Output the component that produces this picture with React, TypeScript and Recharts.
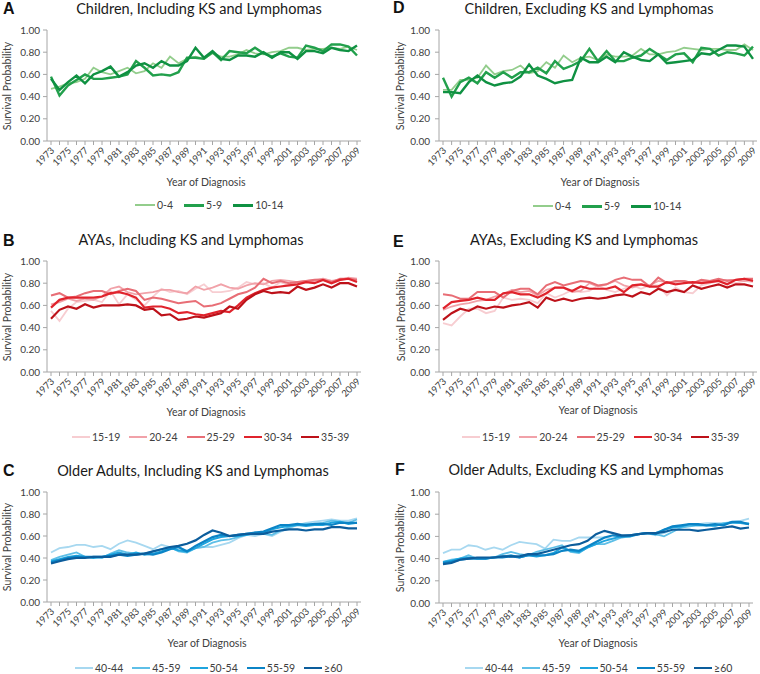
import React from 'react';
import { LineChart, Line, XAxis, YAxis } from 'recharts';

const years = [1973, 1974, 1975, 1976, 1977, 1978, 1979, 1980, 1981, 1982, 1983, 1984, 1985, 1986, 1987, 1988, 1989, 1990, 1991, 1992, 1993, 1994, 1995, 1996, 1997, 1998, 1999, 2000, 2001, 2002, 2003, 2004, 2005, 2006, 2007, 2008, 2009];
const yTicks = [0, 0.2, 0.4, 0.6, 0.8, 1];

const childLabels = ['0-4', '5-9', '10-14'];
const ayaLabels = ['15-19', '20-24', '25-29', '30-34', '35-39'];
const olderLabels = ['40-44', '45-59', '50-54', '55-59', '≥60'];

const childColors = ['#93cd8c', '#22a04c', '#0f9142'];
const ayaColors = ['#f7cdd1', '#f1a2a9', '#e86e76', '#e0232c', '#bd1119'];
const olderColors = ['#a7d8f0', '#5ebfe7', '#1ea4de', '#0b84c6', '#0c5d9c'];

// A: Children, Including KS and Lymphomas
const childInc_0_4 = [0.47, 0.49, 0.52, 0.53, 0.56, 0.66, 0.62, 0.60, 0.63, 0.66, 0.61, 0.63, 0.70, 0.66, 0.76, 0.70, 0.74, 0.76, 0.74, 0.79, 0.76, 0.76, 0.78, 0.82, 0.79, 0.78, 0.80, 0.81, 0.84, 0.84, 0.82, 0.83, 0.83, 0.84, 0.83, 0.85, 0.82];
const childInc_5_9 = [0.58, 0.41, 0.50, 0.55, 0.60, 0.56, 0.56, 0.57, 0.58, 0.60, 0.72, 0.66, 0.59, 0.60, 0.59, 0.62, 0.75, 0.75, 0.74, 0.80, 0.73, 0.81, 0.80, 0.79, 0.84, 0.79, 0.76, 0.79, 0.76, 0.75, 0.86, 0.84, 0.81, 0.87, 0.87, 0.85, 0.77];
const childInc_10_14 = [0.56, 0.46, 0.53, 0.59, 0.52, 0.60, 0.63, 0.67, 0.58, 0.62, 0.68, 0.70, 0.66, 0.72, 0.68, 0.68, 0.72, 0.84, 0.75, 0.81, 0.74, 0.73, 0.77, 0.77, 0.76, 0.80, 0.75, 0.80, 0.80, 0.74, 0.81, 0.81, 0.79, 0.84, 0.82, 0.81, 0.86];

// D: Children, Excluding KS and Lymphomas
const childExc_0_4 = [0.46, 0.46, 0.55, 0.55, 0.57, 0.68, 0.60, 0.63, 0.64, 0.68, 0.61, 0.63, 0.71, 0.66, 0.77, 0.71, 0.75, 0.76, 0.73, 0.78, 0.76, 0.76, 0.77, 0.83, 0.78, 0.78, 0.80, 0.81, 0.84, 0.83, 0.82, 0.83, 0.83, 0.82, 0.82, 0.87, 0.82];
const childExc_5_9 = [0.57, 0.40, 0.53, 0.57, 0.52, 0.62, 0.57, 0.62, 0.57, 0.62, 0.62, 0.66, 0.61, 0.72, 0.65, 0.68, 0.72, 0.83, 0.72, 0.81, 0.72, 0.72, 0.75, 0.77, 0.83, 0.78, 0.73, 0.78, 0.79, 0.71, 0.84, 0.83, 0.77, 0.80, 0.79, 0.77, 0.85];
const childExc_10_14 = [0.44, 0.44, 0.43, 0.53, 0.59, 0.53, 0.50, 0.52, 0.53, 0.58, 0.69, 0.59, 0.56, 0.52, 0.54, 0.55, 0.75, 0.71, 0.71, 0.76, 0.71, 0.80, 0.76, 0.73, 0.72, 0.78, 0.70, 0.71, 0.72, 0.73, 0.79, 0.78, 0.82, 0.86, 0.86, 0.85, 0.74];

// B: AYAs, Including KS and Lymphomas
const ayaInc_15_19 = [0.55, 0.46, 0.57, 0.63, 0.64, 0.65, 0.63, 0.73, 0.61, 0.70, 0.65, 0.60, 0.68, 0.75, 0.72, 0.73, 0.70, 0.75, 0.79, 0.72, 0.72, 0.73, 0.76, 0.81, 0.79, 0.80, 0.76, 0.81, 0.78, 0.80, 0.82, 0.83, 0.84, 0.82, 0.83, 0.84, 0.82];
const ayaInc_20_24 = [0.61, 0.63, 0.66, 0.64, 0.66, 0.65, 0.68, 0.75, 0.77, 0.72, 0.70, 0.71, 0.72, 0.74, 0.74, 0.72, 0.71, 0.77, 0.74, 0.76, 0.79, 0.76, 0.75, 0.78, 0.80, 0.79, 0.82, 0.83, 0.82, 0.81, 0.82, 0.82, 0.84, 0.82, 0.83, 0.85, 0.84];
const ayaInc_25_29 = [0.69, 0.71, 0.67, 0.68, 0.71, 0.73, 0.73, 0.70, 0.73, 0.75, 0.73, 0.65, 0.67, 0.66, 0.64, 0.62, 0.63, 0.64, 0.59, 0.60, 0.62, 0.66, 0.70, 0.72, 0.76, 0.84, 0.80, 0.82, 0.80, 0.81, 0.82, 0.83, 0.83, 0.81, 0.84, 0.84, 0.83];
const ayaInc_30_34 = [0.58, 0.65, 0.67, 0.67, 0.67, 0.67, 0.68, 0.71, 0.72, 0.70, 0.67, 0.58, 0.59, 0.59, 0.57, 0.53, 0.54, 0.52, 0.51, 0.53, 0.55, 0.54, 0.60, 0.67, 0.71, 0.74, 0.76, 0.77, 0.78, 0.79, 0.81, 0.80, 0.83, 0.80, 0.83, 0.84, 0.81];
const ayaInc_35_39 = [0.48, 0.56, 0.59, 0.57, 0.61, 0.58, 0.60, 0.60, 0.60, 0.61, 0.60, 0.56, 0.57, 0.51, 0.52, 0.47, 0.48, 0.50, 0.49, 0.51, 0.53, 0.59, 0.57, 0.65, 0.70, 0.73, 0.71, 0.72, 0.71, 0.77, 0.74, 0.76, 0.79, 0.76, 0.80, 0.80, 0.77];

// E: AYAs, Excluding KS and Lymphomas
const ayaExc_15_19 = [0.44, 0.42, 0.50, 0.57, 0.57, 0.53, 0.55, 0.67, 0.65, 0.66, 0.65, 0.62, 0.71, 0.67, 0.70, 0.74, 0.72, 0.73, 0.78, 0.74, 0.72, 0.75, 0.78, 0.75, 0.78, 0.78, 0.69, 0.76, 0.72, 0.71, 0.78, 0.80, 0.82, 0.80, 0.80, 0.82, 0.81];
const ayaExc_20_24 = [0.56, 0.59, 0.61, 0.62, 0.64, 0.65, 0.68, 0.70, 0.74, 0.72, 0.73, 0.69, 0.74, 0.76, 0.76, 0.72, 0.73, 0.80, 0.77, 0.79, 0.82, 0.78, 0.76, 0.79, 0.78, 0.82, 0.81, 0.81, 0.82, 0.80, 0.82, 0.81, 0.83, 0.83, 0.83, 0.82, 0.83];
const ayaExc_25_29 = [0.70, 0.69, 0.66, 0.66, 0.72, 0.72, 0.72, 0.67, 0.73, 0.75, 0.75, 0.70, 0.78, 0.81, 0.78, 0.80, 0.82, 0.81, 0.78, 0.79, 0.83, 0.85, 0.83, 0.83, 0.77, 0.85, 0.80, 0.82, 0.82, 0.80, 0.83, 0.82, 0.84, 0.82, 0.83, 0.84, 0.84];
const ayaExc_30_34 = [0.57, 0.63, 0.64, 0.65, 0.67, 0.65, 0.65, 0.71, 0.72, 0.70, 0.70, 0.67, 0.71, 0.76, 0.76, 0.73, 0.77, 0.75, 0.75, 0.75, 0.77, 0.72, 0.78, 0.79, 0.77, 0.77, 0.81, 0.79, 0.80, 0.81, 0.80, 0.81, 0.82, 0.79, 0.83, 0.84, 0.82];
const ayaExc_35_39 = [0.47, 0.53, 0.57, 0.55, 0.59, 0.57, 0.59, 0.58, 0.60, 0.61, 0.63, 0.58, 0.67, 0.64, 0.66, 0.64, 0.66, 0.67, 0.66, 0.67, 0.69, 0.70, 0.68, 0.72, 0.70, 0.75, 0.72, 0.74, 0.72, 0.78, 0.75, 0.77, 0.79, 0.76, 0.79, 0.79, 0.77];

// C: Older Adults, Including KS and Lymphomas
const oldInc_40_44 = [0.45, 0.49, 0.50, 0.52, 0.52, 0.50, 0.51, 0.48, 0.53, 0.56, 0.54, 0.51, 0.48, 0.52, 0.50, 0.49, 0.47, 0.49, 0.50, 0.50, 0.52, 0.54, 0.58, 0.61, 0.60, 0.62, 0.60, 0.64, 0.67, 0.70, 0.72, 0.73, 0.74, 0.75, 0.74, 0.74, 0.76];
const oldInc_45_59 = [0.38, 0.41, 0.43, 0.45, 0.41, 0.41, 0.40, 0.44, 0.47, 0.45, 0.44, 0.44, 0.46, 0.48, 0.50, 0.46, 0.45, 0.49, 0.50, 0.54, 0.56, 0.57, 0.59, 0.62, 0.63, 0.62, 0.61, 0.65, 0.68, 0.70, 0.71, 0.71, 0.72, 0.74, 0.73, 0.72, 0.75];
const oldInc_50_54 = [0.37, 0.39, 0.41, 0.42, 0.41, 0.40, 0.41, 0.43, 0.45, 0.43, 0.45, 0.43, 0.44, 0.46, 0.49, 0.47, 0.46, 0.49, 0.53, 0.57, 0.59, 0.60, 0.60, 0.61, 0.63, 0.63, 0.66, 0.68, 0.69, 0.70, 0.69, 0.70, 0.70, 0.72, 0.73, 0.71, 0.72];
const oldInc_55_59 = [0.36, 0.38, 0.40, 0.41, 0.41, 0.41, 0.41, 0.42, 0.43, 0.42, 0.43, 0.44, 0.43, 0.45, 0.48, 0.50, 0.46, 0.51, 0.55, 0.59, 0.61, 0.60, 0.61, 0.62, 0.63, 0.64, 0.67, 0.70, 0.70, 0.71, 0.70, 0.71, 0.71, 0.70, 0.72, 0.72, 0.72];
const oldInc_60 = [0.35, 0.37, 0.39, 0.40, 0.40, 0.41, 0.41, 0.41, 0.43, 0.43, 0.43, 0.44, 0.46, 0.48, 0.50, 0.51, 0.53, 0.56, 0.61, 0.65, 0.63, 0.60, 0.61, 0.62, 0.62, 0.62, 0.64, 0.65, 0.66, 0.66, 0.65, 0.66, 0.66, 0.68, 0.68, 0.67, 0.67];

// F: Older Adults, Excluding KS and Lymphomas
const oldExc_40_44 = [0.45, 0.48, 0.48, 0.52, 0.51, 0.48, 0.50, 0.48, 0.52, 0.55, 0.54, 0.53, 0.49, 0.57, 0.56, 0.56, 0.59, 0.59, 0.59, 0.59, 0.58, 0.60, 0.61, 0.62, 0.63, 0.61, 0.63, 0.66, 0.68, 0.70, 0.71, 0.72, 0.72, 0.72, 0.73, 0.74, 0.76];
const oldExc_45_59 = [0.37, 0.39, 0.40, 0.43, 0.40, 0.40, 0.41, 0.44, 0.46, 0.44, 0.43, 0.46, 0.48, 0.50, 0.52, 0.46, 0.45, 0.50, 0.53, 0.53, 0.56, 0.59, 0.60, 0.62, 0.63, 0.62, 0.60, 0.64, 0.68, 0.69, 0.70, 0.70, 0.69, 0.72, 0.72, 0.72, 0.72];
const oldExc_50_54 = [0.37, 0.38, 0.40, 0.41, 0.40, 0.40, 0.41, 0.42, 0.43, 0.41, 0.43, 0.42, 0.43, 0.45, 0.50, 0.47, 0.46, 0.50, 0.53, 0.56, 0.58, 0.60, 0.60, 0.62, 0.63, 0.63, 0.66, 0.68, 0.69, 0.71, 0.70, 0.70, 0.70, 0.71, 0.73, 0.72, 0.71];
const oldExc_55_59 = [0.36, 0.37, 0.39, 0.40, 0.40, 0.40, 0.41, 0.41, 0.42, 0.41, 0.43, 0.43, 0.43, 0.44, 0.47, 0.48, 0.47, 0.51, 0.55, 0.59, 0.61, 0.60, 0.61, 0.62, 0.63, 0.62, 0.66, 0.69, 0.70, 0.71, 0.71, 0.70, 0.71, 0.70, 0.73, 0.73, 0.71];
const oldExc_60 = [0.35, 0.36, 0.39, 0.40, 0.41, 0.41, 0.41, 0.42, 0.42, 0.42, 0.44, 0.44, 0.46, 0.48, 0.50, 0.52, 0.53, 0.56, 0.62, 0.65, 0.63, 0.61, 0.61, 0.62, 0.63, 0.63, 0.64, 0.66, 0.66, 0.66, 0.65, 0.66, 0.67, 0.68, 0.69, 0.67, 0.68];

const FONT = 'Lato, "Liberation Sans", sans-serif';
const TEXT = '#404040';
const AXIS = '#a6a6a6';

function XTick(props: any) {
  const { x, y, payload } = props;
  if (Number(payload.value) % 2 === 0) return null;
  const ax = x + 4;
  const ay = y + 6;
  return (
    <text x={ax} y={ay} transform={`rotate(-45, ${ax}, ${ay})`} textAnchor="end" fontSize={9.5} fill={TEXT} fontFamily={FONT}>
      {payload.value}
    </text>
  );
}

type PanelCfg = {
  letter: string;
  title: string;
  col: number;
  plotLeft: number;
  plotRight: number;
  plotTop: number;
  plotBottom: number;
  letterX: number;
  letterY: number;
  titleCX: number;
  titleY: number;
  yLabelX: number;
  xLabelCX: number;
  xLabelY: number;
  legendX: number;
  legendY: number;
  legendLine: number;
  legendGap: number;
  yTickMargin: number;
  series: number[][];
  labels: string[];
  colors: string[];
  widths: number[];
};

function Panel({ cfg }: { cfg: PanelCfg }) {
  const chartLeft = cfg.col === 0 ? 0 : 380;
  const yAxisW = cfg.plotLeft - chartLeft;
  const marginRight = chartLeft + 380 - cfg.plotRight;
  const chartTop = cfg.plotTop - 10;
  const height = cfg.plotBottom - cfg.plotTop + 10 + 45;
  const data = years.map((yr, i) => {
    const row: any = { year: yr };
    cfg.series.forEach((s, k) => {
      row['s' + k] = s[i];
    });
    return row;
  });
  const midY = (cfg.plotTop + cfg.plotBottom) / 2;
  return (
    <>
      <div style={{ position: 'absolute', left: chartLeft, top: chartTop }}>
        <LineChart width={380} height={height} data={data} margin={{ top: 10, right: marginRight, bottom: 0, left: 0 }}>
          <XAxis
            dataKey="year"
            interval={0}
            tick={<XTick />}
            tickSize={4}
            tickMargin={0}
            height={45}
            stroke={AXIS}
            padding={{ left: 4, right: 4 }}
          />
          <YAxis
            domain={[0, 1]}
            ticks={yTicks}
            interval={0}
            width={yAxisW}
            tickSize={4}
            tickMargin={cfg.yTickMargin}
            stroke={AXIS}
            tick={{ fontSize: 10, fill: TEXT, fontFamily: FONT }}
            tickFormatter={(v: number) => v.toFixed(2)}
          />
          {cfg.series.map((_, k) => (
            <Line
              key={k}
              type="linear"
              dataKey={'s' + k}
              stroke={cfg.colors[k]}
              strokeWidth={cfg.widths[k]}
              dot={false}
              isAnimationActive={false}
            />
          ))}
        </LineChart>
      </div>
      <div style={{ position: 'absolute', left: cfg.letterX, top: cfg.letterY - 10, height: 20, lineHeight: '20px', fontFamily: 'Arial, "Liberation Sans", sans-serif', fontWeight: 'bold', fontSize: 16, color: '#111' }}>
        {cfg.letter}
      </div>
      <div style={{ position: 'absolute', left: cfg.titleCX - 190, width: 380, top: cfg.titleY - 10, height: 20, lineHeight: '20px', textAlign: 'center', fontFamily: FONT, fontSize: 14.5, color: '#1a1a1a' }}>
        {cfg.title}
      </div>
      <div style={{ position: 'absolute', left: cfg.yLabelX - 60, width: 120, top: midY - 7, height: 14, lineHeight: '14px', textAlign: 'center', fontFamily: FONT, fontSize: 10.5, color: TEXT, transform: 'rotate(-90deg)' }}>
        Survival Probability
      </div>
      <div style={{ position: 'absolute', left: cfg.xLabelCX - 80, width: 160, top: cfg.xLabelY - 7, height: 14, lineHeight: '14px', textAlign: 'center', fontFamily: FONT, fontSize: 10.5, color: TEXT }}>
        Year of Diagnosis
      </div>
      <div style={{ position: 'absolute', left: cfg.legendX, top: cfg.legendY - 7, height: 14, display: 'flex', alignItems: 'center', fontFamily: FONT, fontSize: 10.5, color: TEXT, whiteSpace: 'nowrap' }}>
        {cfg.labels.map((lab, k) => (
          <div key={lab} style={{ display: 'flex', alignItems: 'center', marginRight: cfg.legendGap }}>
            <span style={{ display: 'inline-block', width: cfg.legendLine, height: cfg.widths[k] + 0.6, background: cfg.colors[k], marginRight: 2 }} />
            <span>{lab}</span>
          </div>
        ))}
      </div>
    </>
  );
}

const childWidths = [1.8, 2.4, 2.4];
const fiveWidths = [1.8, 1.8, 2, 2.2, 2.2];

const panels: PanelCfg[] = [
  {
    letter: 'A', title: 'Children, Including KS and Lymphomas', col: 0,
    plotLeft: 47, plotRight: 361, plotTop: 30, plotBottom: 141,
    letterX: 3, letterY: 9, titleCX: 199, titleY: 9, yLabelX: 7, xLabelCX: 206, xLabelY: 182, legendX: 135, legendY: 205, legendLine: 20, legendGap: 11, yTickMargin: 3,
    series: [childInc_0_4, childInc_5_9, childInc_10_14], labels: childLabels, colors: childColors, widths: childWidths,
  },
  {
    letter: 'D', title: 'Children, Excluding KS and Lymphomas', col: 1,
    plotLeft: 439, plotRight: 757, plotTop: 30, plotBottom: 141,
    letterX: 393, letterY: 8, titleCX: 589, titleY: 9, yLabelX: 400, xLabelCX: 600, xLabelY: 182, legendX: 533, legendY: 206, legendLine: 20, legendGap: 11, yTickMargin: 5,
    series: [childExc_0_4, childExc_5_9, childExc_10_14], labels: childLabels, colors: childColors, widths: childWidths,
  },
  {
    letter: 'B', title: 'AYAs, Including KS and Lymphomas', col: 0,
    plotLeft: 47, plotRight: 361, plotTop: 261, plotBottom: 372,
    letterX: 3, letterY: 241, titleCX: 191, titleY: 240, yLabelX: 7, xLabelCX: 206, xLabelY: 412, legendX: 72, legendY: 437, legendLine: 18, legendGap: 9, yTickMargin: 3,
    series: [ayaInc_15_19, ayaInc_20_24, ayaInc_25_29, ayaInc_30_34, ayaInc_35_39], labels: ayaLabels, colors: ayaColors, widths: fiveWidths,
  },
  {
    letter: 'E', title: 'AYAs, Excluding KS and Lymphomas', col: 1,
    plotLeft: 439, plotRight: 757, plotTop: 261, plotBottom: 372,
    letterX: 393, letterY: 242, titleCX: 584, titleY: 240, yLabelX: 401, xLabelCX: 598, xLabelY: 410, legendX: 462, legendY: 437, legendLine: 18, legendGap: 9, yTickMargin: 5,
    series: [ayaExc_15_19, ayaExc_20_24, ayaExc_25_29, ayaExc_30_34, ayaExc_35_39], labels: ayaLabels, colors: ayaColors, widths: fiveWidths,
  },
  {
    letter: 'C', title: 'Older Adults, Including KS and Lymphomas', col: 0,
    plotLeft: 47, plotRight: 361, plotTop: 492, plotBottom: 602,
    letterX: 3, letterY: 471, titleCX: 193, titleY: 471, yLabelX: 7, xLabelCX: 207, xLabelY: 643, legendX: 75, legendY: 668, legendLine: 18, legendGap: 9, yTickMargin: 3,
    series: [oldInc_40_44, oldInc_45_59, oldInc_50_54, oldInc_55_59, oldInc_60], labels: olderLabels, colors: olderColors, widths: fiveWidths,
  },
  {
    letter: 'F', title: 'Older Adults, Excluding KS and Lymphomas', col: 1,
    plotLeft: 439, plotRight: 753, plotTop: 492, plotBottom: 603,
    letterX: 395, letterY: 470, titleCX: 586, titleY: 470, yLabelX: 400, xLabelCX: 598, xLabelY: 643, legendX: 465, legendY: 668, legendLine: 18, legendGap: 9, yTickMargin: 5,
    series: [oldExc_40_44, oldExc_45_59, oldExc_50_54, oldExc_55_59, oldExc_60], labels: olderLabels, colors: olderColors, widths: fiveWidths,
  },
];

export default function App() {
  return (
    <div style={{ position: 'absolute', left: 0, top: 0, width: 760, height: 674, background: '#fff', overflow: 'hidden' }}>
      {panels.map((p) => (
        <Panel key={p.letter} cfg={p} />
      ))}
    </div>
  );
}
